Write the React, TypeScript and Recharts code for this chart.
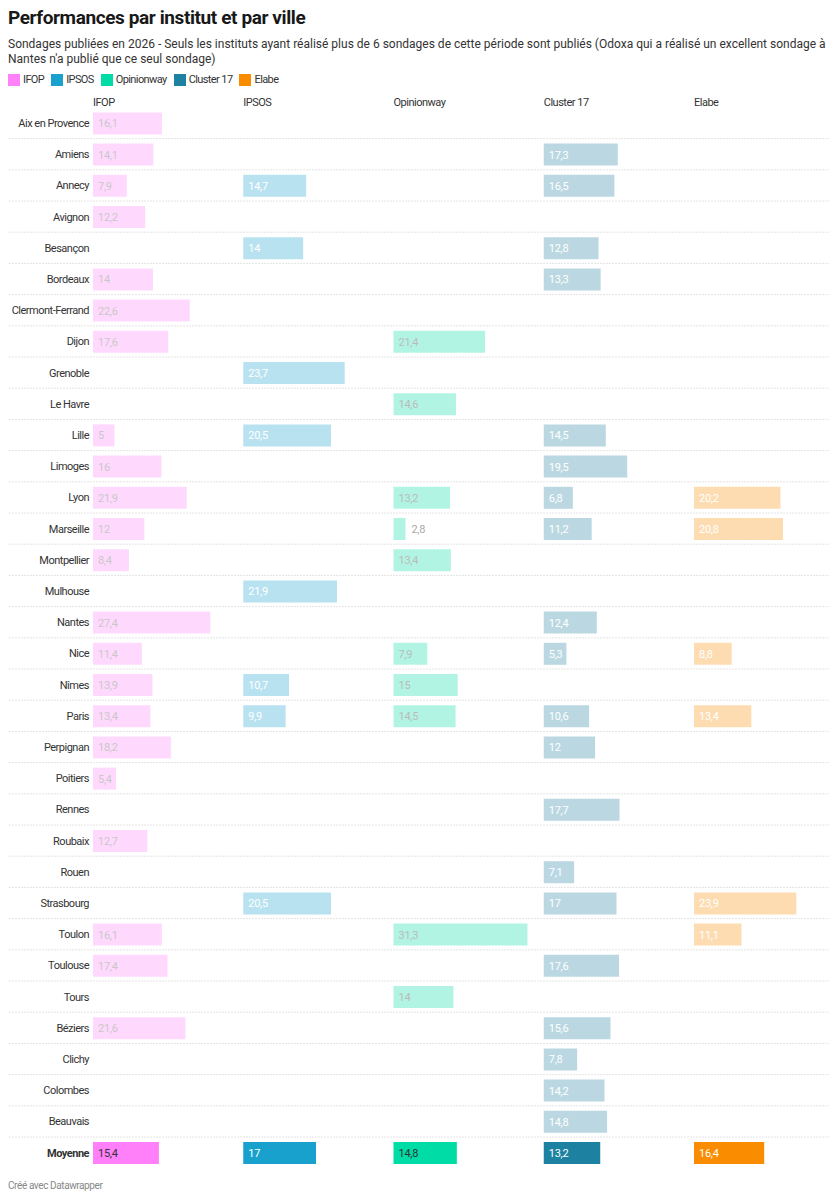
import { ComposedChart, Bar, XAxis, YAxis, Cell, LabelList } from 'recharts';

const cities = [
  'Aix en Provence', 'Amiens', 'Annecy', 'Avignon', 'Besançon', 'Bordeaux', 'Clermont-Ferrand',
  'Dijon', 'Grenoble', 'Le Havre', 'Lille', 'Limoges', 'Lyon', 'Marseille', 'Montpellier',
  'Mulhouse', 'Nantes', 'Nice', 'Nîmes', 'Paris', 'Perpignan', 'Poitiers', 'Rennes', 'Roubaix',
  'Rouen', 'Strasbourg', 'Toulon', 'Toulouse', 'Tours', 'Béziers', 'Clichy', 'Colombes',
  'Beauvais', 'Moyenne',
];

const ifop = [
  16.1, 14.1, 7.9, 12.2, null, 14, 22.6, 17.6, null, null, 5, 16, 21.9, 12, 8.4, null, 27.4,
  11.4, 13.9, 13.4, 18.2, 5.4, null, 12.7, null, null, 16.1, 17.4, null, 21.6, null, null, null,
  15.4,
];
const ipsos = [
  null, null, 14.7, null, 14, null, null, null, 23.7, null, 20.5, null, null, null, null, 21.9,
  null, null, 10.7, 9.9, null, null, null, null, null, 20.5, null, null, null, null, null, null,
  null, 17,
];
const opinionway = [
  null, null, null, null, null, null, null, 21.4, null, 14.6, null, null, 13.2, 2.8, 13.4, null,
  null, 7.9, 15, 14.5, null, null, null, null, null, null, 31.3, null, 14, null, null, null, null,
  14.8,
];
const cluster17 = [
  null, 17.3, 16.5, null, 12.8, 13.3, null, null, null, null, 14.5, 19.5, 6.8, 11.2, null, null,
  12.4, 5.3, null, 10.6, 12, null, 17.7, null, 7.1, 17, null, 17.6, null, 15.6, 7.8, 14.2, 14.8,
  13.2,
];
const elabe = [
  null, null, null, null, null, null, null, null, null, null, null, null, 20.2, 20.8, null, null,
  null, 8.8, null, 13.4, null, null, null, null, null, 23.9, 11.1, null, null, null, null, null,
  null, 16.4,
];

const series = [
  { key: 'ifop', name: 'IFOP', color: '#ff80f8', faded: '#ffd9fd', text: '#c8c8c8', meanText: '#333333' },
  { key: 'ipsos', name: 'IPSOS', color: '#18a1cd', faded: '#b9e2f0', text: '#ffffff', meanText: '#ffffff' },
  { key: 'opinionway', name: 'Opinionway', color: '#00dca6', faded: '#b2f4e3', text: '#bbbbbb', meanText: '#333333' },
  { key: 'cluster17', name: 'Cluster 17', color: '#1d81a2', faded: '#bbd8e2', text: '#ffffff', meanText: '#ffffff' },
  { key: 'elabe', name: 'Elabe', color: '#fa8c00', faded: '#fddcb2', text: '#ffffff', meanText: '#ffffff' },
];

const data = cities.map((city, i) => ({
  city,
  ifop: ifop[i],
  ipsos: ipsos[i],
  opinionway: opinionway[i],
  cluster17: cluster17[i],
  elabe: elabe[i],
}));

const W = 821;
const AXIS_W = 85;
const PLOT_W = W - AXIS_W;
const COL_STEP = 150.25;
const PX_PER_UNIT = 4.28;
const ROW_H = 31.2;
const TOP = 12.4;
const CHART_H = Math.ceil(TOP + ROW_H * cities.length + 4);
const LAST = cities.length - 1;
const MEAN_Y = TOP + ROW_H * LAST;

const fmt = (v: number) => String(v).replace('.', ',');

const CityTick = (props: any) => {
  const { y, payload } = props;
  const last = payload.value === cities[LAST];
  return (
    <g>
      <text
        x={81}
        y={y}
        dy={4}
        textAnchor="end"
        fontSize={11}
        letterSpacing={-0.5}
        fill="#333"
        fontWeight={last ? 700 : 400}
      >
        {payload.value}
      </text>
      {!last && (
        <line x1={1} x2={W} y1={y + ROW_H / 2} y2={y + ROW_H / 2} stroke="#e4e4e4" strokeDasharray="2 1" />
      )}
    </g>
  );
};

const makeLabel = (s: (typeof series)[number]) => (props: any) => {
  const { x, y, width, height, value } = props;
  if (value == null) return null;
  const mean = y >= MEAN_Y;
  const txt = fmt(value);
  const inside = width > txt.length * 5 + 5;
  return (
    <text
      x={inside ? x + 5 : x + width + 6}
      y={y + height / 2}
      dy={4}
      fontSize={11}
      letterSpacing={-0.3}
      fill={inside ? (mean ? s.meanText : s.text) : '#aaaaaa'}
    >
      {txt}
    </text>
  );
};

export default function App() {
  return (
    <div style={{ position: 'relative', width: W, height: 1184, fontFamily: 'Roboto, sans-serif', color: '#333' }}>
      <div
        style={{
          position: 'absolute', top: 0, left: 0, fontSize: 19, lineHeight: '20px', fontWeight: 700,
          letterSpacing: -0.4, color: '#181818',
        }}
      >
        Performances par institut et par ville
      </div>
      <div style={{ position: 'absolute', top: 28.5, left: 0, width: W, fontSize: 12, lineHeight: '15px', color: '#333' }}>
        Sondages publiées en 2026 - Seuls les instituts ayant réalisé plus de 6 sondages de cette période sont publiés
        (Odoxa qui a réalisé un excellent sondage à Nantes n'a publié que ce seul sondage)
      </div>
      <div
        style={{
          position: 'absolute', top: 65, left: 0, display: 'flex', alignItems: 'center', fontSize: 11,
          lineHeight: '14px', letterSpacing: -0.6,
        }}
      >
        {series.map((s) => (
          <div key={s.key} style={{ display: 'flex', alignItems: 'center', marginRight: 7 }}>
            <span style={{ width: 12, height: 12, background: s.color, marginRight: 3, display: 'inline-block' }} />
            <span>{s.name}</span>
          </div>
        ))}
      </div>
      {series.map((s, i) => (
        <div
          key={s.key}
          style={{
            position: 'absolute', top: 88, left: AXIS_W + i * COL_STEP, fontSize: 11, lineHeight: '14px',
            letterSpacing: -0.5, color: '#333',
          }}
        >
          {s.name}
        </div>
      ))}
      <div style={{ position: 'absolute', top: 87, left: 0 }}>
        <ComposedChart
          width={W}
          height={CHART_H}
          data={data}
          layout="vertical"
          margin={{ top: TOP, right: 0, bottom: CHART_H - TOP - ROW_H * cities.length, left: 0 }}
        >
          {series.map((s, i) => {
            const start = (-i * COL_STEP) / PX_PER_UNIT;
            return (
              <XAxis
                key={s.key}
                xAxisId={s.key}
                type="number"
                domain={[start, start + PLOT_W / PX_PER_UNIT]}
                allowDataOverflow
                hide
              />
            );
          })}
          {series.map((s, i) => (
            <YAxis
              key={s.key}
              yAxisId={s.key}
              type="category"
              dataKey="city"
              width={AXIS_W}
              hide={i > 0}
              axisLine={false}
              tickLine={false}
              interval={0}
              tick={<CityTick />}
            />
          ))}
          {series.map((s) => (
            <Bar
              key={s.key}
              dataKey={s.key}
              name={s.name}
              xAxisId={s.key}
              yAxisId={s.key}
              barSize={22}
              isAnimationActive={false}
            >
              {data.map((_, i) => (
                <Cell key={i} fill={i === LAST ? s.color : s.faded} />
              ))}
              <LabelList dataKey={s.key} content={makeLabel(s)} />
            </Bar>
          ))}
        </ComposedChart>
      </div>
      <div
        style={{
          position: 'absolute', top: 1171, left: 0, fontSize: 10, lineHeight: '14px', letterSpacing: -0.4,
          color: '#888',
        }}
      >
        Créé avec Datawrapper
      </div>
    </div>
  );
}
